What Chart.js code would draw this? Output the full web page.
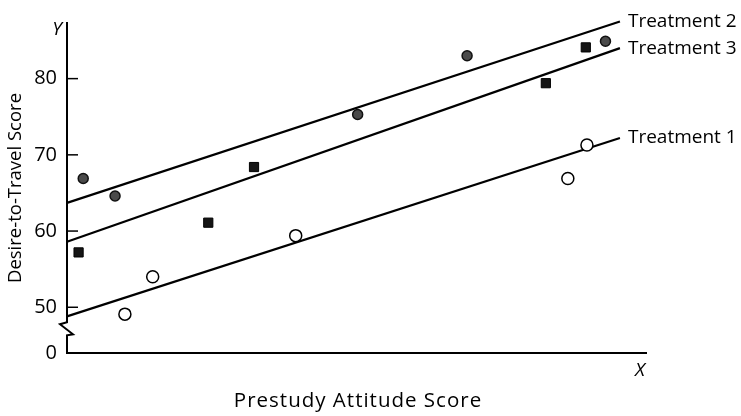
<!DOCTYPE html>
<html>
<head>
<meta charset="utf-8">
<script src="https://cdn.jsdelivr.net/npm/chart.js@4"></script>
<style>
html,body{margin:0;padding:0;background:#fff;}
#wrap{width:741px;height:416px;position:relative;}
</style>
</head>
<body>
<div id="wrap"><canvas id="c" width="741" height="416"></canvas></div>
<script>
// ---- data ----
const seriesNames = ["Treatment 1", "Treatment 2", "Treatment 3"];
const t1X = [10.0, 14.8, 39.5, 86.5, 89.8];
const t1Y = [49.1, 54.0, 59.4, 66.9, 71.3];
const t2X = [2.8, 8.3, 50.2, 69.1, 93.0];
const t2Y = [66.9, 64.6, 75.3, 83.0, 84.9];
const t3X = [2.0, 24.4, 32.3, 82.7, 89.6];
const t3Y = [57.2, 61.1, 68.4, 79.4, 84.1];
const lineX = [0, 95.5];
const t1Line = [48.8, 72.2];
const t2Line = [63.7, 87.5];
const t3Line = [58.6, 84.0];
const yTicks = [50, 60, 70, 80];
const yBreakValue = 44.0;   // position where "0" is drawn (axis broken)
const yBreakLabel = "0";
const yMax = 87.43;
const xTitle = "Prestudy Attitude Score";
const yTitle = "Desire-to-Travel Score";

const FONT = "'Open Sans', 'Lato', sans-serif";

function pts(xs, ys){ return xs.map((x,i)=>({x:x, y:ys[i]})); }

const overlay = {
  id: 'overlay',
  afterDraw(chart){
    const ctx = chart.ctx;
    const xs = chart.scales.x, ys = chart.scales.y;
    const ca = chart.chartArea;
    ctx.save();
    ctx.strokeStyle = '#000';
    ctx.lineWidth = 2;
    ctx.lineJoin = 'miter';
    // y axis with break
    const ax = ca.left;
    const p50 = ys.getPixelForValue(50);
    const p0 = ys.getPixelForValue(yBreakValue);
    const b1 = p50 + 15;
    ctx.beginPath();
    ctx.moveTo(ax, ca.top);
    ctx.lineTo(ax, b1);
    ctx.lineTo(ax - 7, b1 + 2);
    ctx.lineTo(ax + 6, b1 + 12);
    ctx.lineTo(ax, b1 + 13);
    ctx.lineTo(ax, p0);
    ctx.stroke();
    // inward ticks
    ctx.lineWidth = 1.5;
    yTicks.forEach(v=>{
      const py = ys.getPixelForValue(v);
      ctx.beginPath();
      ctx.moveTo(ax, py);
      ctx.lineTo(ax + 11, py);
      ctx.stroke();
    });
    // series labels at line ends
    ctx.fillStyle = '#000';
    ctx.font = "19px " + FONT;
    ctx.textAlign = 'left';
    ctx.textBaseline = 'middle';
    const ends = [t1Line[1], t2Line[1], t3Line[1]];
    seriesNames.forEach((n,i)=>{
      ctx.fillText(n, xs.getPixelForValue(lineX[1]) + 8, ys.getPixelForValue(ends[i]));
    });
    // axis letters
    ctx.font = "italic 19px " + FONT;
    ctx.textAlign = 'center';
    ctx.fillText("Y", ax - 10, ca.top + 8);
    ctx.fillText("X", ca.right - 6, ca.bottom + 18);
    // axis titles
    ctx.font = "20.5px " + FONT;
    if ('letterSpacing' in ctx) ctx.letterSpacing = '1px';
    ctx.fillText(xTitle, 358, 401);
    if ('letterSpacing' in ctx) ctx.letterSpacing = '0px';
    ctx.font = "18.5px " + FONT;
    ctx.translate(16, 188);
    ctx.rotate(-Math.PI/2);
    ctx.fillText(yTitle, 0, 0);
    ctx.restore();
  }
};

const lineStyle = {type:'line', borderColor:'#000', borderWidth:2.2, pointRadius:0, fill:false, tension:0, clip:false, order:2};

new Chart(document.getElementById('c'), {
  type: 'scatter',
  data: {
    datasets: [
      Object.assign({label: seriesNames[0]+' line', data: pts(lineX, t1Line)}, lineStyle),
      Object.assign({label: seriesNames[1]+' line', data: pts(lineX, t2Line)}, lineStyle),
      Object.assign({label: seriesNames[2]+' line', data: pts(lineX, t3Line)}, lineStyle),
      {label: seriesNames[0], data: pts(t1X, t1Y), pointStyle:'circle', pointRadius:6,
       backgroundColor:'#fff', borderColor:'#000', borderWidth:1.5, clip:false, order:1},
      {label: seriesNames[1], data: pts(t2X, t2Y), pointStyle:'circle', pointRadius:5,
       backgroundColor:'#4a4a4a', borderColor:'#111', borderWidth:1.5, clip:false, order:1},
      {label: seriesNames[2], data: pts(t3X, t3Y), pointStyle:'rect', pointRadius:6.5,
       backgroundColor:'#151515', borderColor:'#000', borderWidth:1, clip:false, order:1}
    ]
  },
  options: {
    responsive: false,
    animation: false,
    events: [],
    layout: {padding: {left: 0, top: 17, right: 95, bottom: 0}},
    plugins: {legend: {display:false}, tooltip: {enabled:false}},
    scales: {
      x: {
        type: 'linear', min: 0, max: 100,
        ticks: {display: false},
        grid: {display: false, drawTicks: false},
        border: {display: true, color: '#000', width: 2},
        afterFit(s){ s.height = 63; }
      },
      y: {
        type: 'linear', min: yBreakValue, max: yMax,
        afterBuildTicks(s){ s.ticks = [yBreakValue].concat(yTicks).map(v=>({value:v})); },
        ticks: {
          padding: 10, color:'#000',
          font: {family: FONT, size: 20},
          callback(v){ return v === yBreakValue ? yBreakLabel : String(v); }
        },
        grid: {display: false, drawTicks: false},
        border: {display: false},
        afterFit(s){ s.width = 67; }
      }
    }
  },
  plugins: [overlay]
});
</script>
</body>
</html>
